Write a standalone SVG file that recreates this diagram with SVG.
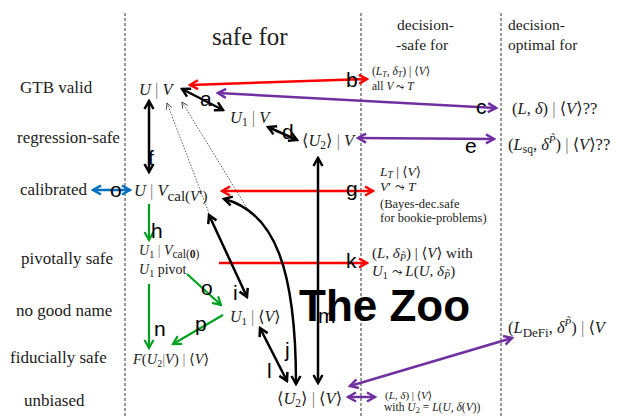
<svg xmlns="http://www.w3.org/2000/svg" width="620" height="416" viewBox="0 0 620 416">
<style>
.t{font-family:"Liberation Serif","DejaVu Serif",serif;fill:#222}
.i{font-style:italic}
.b{fill:#777}
.lbl{font-family:"Liberation Sans",Arial,sans-serif;font-size:21px;fill:#000}
.row{font-family:"Liberation Serif","DejaVu Serif",serif;font-size:17px;fill:#222}
.dash{stroke:#555;stroke-width:1.2;stroke-dasharray:3 2}
.k{stroke:#000;stroke-width:2.5;fill:none;marker-start:url(#mk);marker-end:url(#mk)}
.r{stroke:#f00;stroke-width:2.5;fill:none}
.pu{stroke:#7030a0;stroke-width:2.5;fill:none;marker-start:url(#mp);marker-end:url(#mp)}
.gr{stroke:#00a020;stroke-width:2.2;fill:none;marker-end:url(#mg)}
.th{stroke:#333;stroke-width:0.8;stroke-dasharray:1.5 1.5;fill:none;marker-start:url(#mt)}
</style>
<defs>
<marker id="mk" viewBox="0 0 12 12" refX="10" refY="6" markerWidth="12" markerHeight="12" markerUnits="userSpaceOnUse" orient="auto-start-reverse"><path d="M2,1.5 L10,6 L2,10.5" fill="none" stroke="#000" stroke-width="2.5"/></marker>
<marker id="mr" viewBox="0 0 12 12" refX="10" refY="6" markerWidth="12" markerHeight="12" markerUnits="userSpaceOnUse" orient="auto-start-reverse"><path d="M2,1.5 L10,6 L2,10.5" fill="none" stroke="#f00" stroke-width="2.5"/></marker>
<marker id="mp" viewBox="0 0 12 12" refX="10" refY="6" markerWidth="12" markerHeight="12" markerUnits="userSpaceOnUse" orient="auto-start-reverse"><path d="M2,1.5 L10,6 L2,10.5" fill="none" stroke="#7030a0" stroke-width="2.5"/></marker>
<marker id="mg" viewBox="0 0 12 12" refX="10" refY="6" markerWidth="12" markerHeight="12" markerUnits="userSpaceOnUse" orient="auto-start-reverse"><path d="M2,1.5 L10,6 L2,10.5" fill="none" stroke="#00a020" stroke-width="2.2"/></marker>
<marker id="mb" viewBox="0 0 12 12" refX="10" refY="6" markerWidth="12" markerHeight="12" markerUnits="userSpaceOnUse" orient="auto-start-reverse"><path d="M2,1.5 L10,6 L2,10.5" fill="none" stroke="#0070c0" stroke-width="2.5"/></marker>
<marker id="mt" viewBox="0 0 8 8" refX="7" refY="4" markerWidth="8" markerHeight="8" markerUnits="userSpaceOnUse" orient="auto-start-reverse"><path d="M1,1 L7,4 L1,7" fill="none" stroke="#333" stroke-width="0.8"/></marker>
</defs>
<rect width="620" height="416" fill="#fff"/>

<g id="columns">
<line class="dash" x1="125" y1="13" x2="125" y2="416"/>
<line class="dash" x1="361" y1="13" x2="361" y2="416"/>
<line class="dash" x1="501" y1="13" x2="501" y2="416"/>
<text class="t" x="212" y="45" font-size="25">safe for</text>
<text class="t" x="397" y="30" font-size="15.5">decision-</text>
<text class="t" x="396" y="50" font-size="15.5">-safe for</text>
<text class="t" x="508" y="30" font-size="15.5">decision-</text>
<text class="t" x="508" y="50" font-size="15.5">optimal for</text>
</g>

<g id="rows">
<text class="row" x="20" y="93">GTB valid</text>
<text class="row" x="17" y="143">regression-safe</text>
<text class="row" x="20" y="195">calibrated</text>
<text class="row" x="21" y="264">pivotally safe</text>
<text class="row" x="16" y="316">no good name</text>
<text class="row" x="10" y="363">fiducially safe</text>
<text class="row" x="24" y="406">unbiased</text>
</g>

<g id="connectors">
<path class="th" d="M167,103 L209,213"/>
<path class="th" d="M182,102 L250,213"/>
<path class="r" d="M190,85 L367,79" marker-start="url(#mr)" marker-end="url(#mr)"/>
<path class="pu" d="M218,93 L496,108"/>
<path class="k" d="M182,89 L223,110"/>
<path class="k" d="M268,127 L297,140"/>
<path class="pu" d="M358,138 L494,139"/>
<path class="k" d="M149,101 L149,172"/>
<path d="M93,190 L130,190" stroke="#0070c0" stroke-width="2.5" fill="none" marker-start="url(#mb)" marker-end="url(#mb)"/>
<path class="r" d="M222,191 L373,191" marker-start="url(#mr)" marker-end="url(#mr)"/>
<path class="gr" d="M149,204 L149,240"/>
<path class="r" d="M219,263 L367,263" marker-end="url(#mr)"/>
<path class="k" d="M209,215 L247,297"/>
<path class="k" d="M224,199 C275,212 296,270 296,384"/>
<path class="k" d="M318,158 L318,383"/>
<path class="k" d="M260,328 L287,381"/>
<path class="gr" d="M149,284 L149,348"/>
<path class="gr" d="M187,274 L221,305"/>
<path class="gr" d="M223,315 L173,344"/>
<path class="pu" d="M350,386 L512,338"/>
<path class="pu" d="M348,397 L375,397"/>
</g>

<g id="labels">
<text class="lbl" x="200" y="106">a</text>
<text class="lbl" x="346" y="87">b</text>
<text class="lbl" x="476" y="114">c</text>
<text class="lbl" x="282" y="139">d</text>
<text class="lbl" x="465" y="153">e</text>
<text class="lbl" x="148" y="165">f</text>
<text class="lbl" x="346" y="196">g</text>
<text class="lbl" x="110" y="197">o</text>
<text class="lbl" x="151" y="238">h</text>
<text class="lbl" x="233" y="300">i</text>
<text class="lbl" x="285" y="357">j</text>
<text class="lbl" x="346" y="268">k</text>
<text class="lbl" x="267" y="378">l</text>
<text class="lbl" x="318" y="323">m</text>
<text class="lbl" x="154" y="336">n</text>
<text class="lbl" x="201" y="295">o</text>
<text class="lbl" x="195" y="331">p</text>
</g>

<g id="n-uv"><text class="t" x="139" y="95" font-size="16.5"><tspan class="i">U</tspan> <tspan class="b">|</tspan> <tspan class="i">V</tspan></text></g>
<g id="n-u1v"><text class="t" x="230" y="123" font-size="16.5"><tspan class="i">U</tspan><tspan font-size="11.5" dy="3">1</tspan><tspan dy="-3"> </tspan><tspan class="b">|</tspan> <tspan class="i">V</tspan></text></g>
<g id="n-u2v"><text class="t" x="302" y="146" font-size="16.5">⟨<tspan class="i">U</tspan><tspan font-size="11.5" dy="3">2</tspan><tspan dy="-3">⟩ </tspan><tspan class="b">|</tspan> <tspan class="i">V</tspan></text></g>
<g id="n-ucal"><text class="t" x="134" y="196" font-size="16.5"><tspan class="i">U</tspan> <tspan class="b">|</tspan> <tspan class="i">V</tspan><tspan font-size="15" dy="5">cal(<tspan class="i">V</tspan>′)</tspan></text></g>
<g id="n-u1cal"><text class="t" x="139" y="255" font-size="14"><tspan class="i">U</tspan><tspan font-size="10" dy="3">1</tspan><tspan dy="-3"> </tspan><tspan class="b">|</tspan> <tspan class="i">V</tspan><tspan font-size="11.5" dy="3">cal(<tspan font-weight="bold">0</tspan>)</tspan></text>
<text class="t" x="139" y="274" font-size="14"><tspan class="i">U</tspan><tspan font-size="10" dy="3">1</tspan><tspan dy="-3"> pivot</tspan></text></g>
<g id="n-u1av"><text class="t" x="230" y="322" font-size="16"><tspan class="i">U</tspan><tspan font-size="11" dy="3">1</tspan><tspan dy="-3"> </tspan><tspan class="b">|</tspan> ⟨<tspan class="i">V</tspan>⟩</text></g>
<g id="n-fid"><text class="t" x="133" y="364" font-size="14.5"><tspan class="i">F</tspan>(<tspan class="i">U</tspan><tspan font-size="10" dy="3">2</tspan><tspan dy="-3" class="b">|</tspan><tspan class="i">V</tspan>) <tspan class="b">|</tspan> ⟨<tspan class="i">V</tspan>⟩</text></g>
<g id="n-u2av"><text class="t" x="277" y="404" font-size="16.5">⟨<tspan class="i">U</tspan><tspan font-size="11.5" dy="3">2</tspan><tspan dy="-3">⟩ </tspan><tspan class="b">|</tspan> ⟨<tspan class="i">V</tspan>⟩</text></g>

<g id="n-lt"><text class="t" x="372" y="75" font-size="11.5">(<tspan class="i">L</tspan><tspan font-size="8" dy="2" class="i">T</tspan><tspan dy="-2">, </tspan><tspan class="i">δ</tspan><tspan font-size="8" dy="2" class="i">T</tspan><tspan dy="-2">) | ⟨</tspan><tspan class="i">V</tspan>⟩</text>
<text class="t" x="372" y="90" font-size="11.5">all  <tspan class="i">V</tspan> <tspan font-family="DejaVu Sans,sans-serif" font-size="10">⤳</tspan> <tspan class="i">T</tspan></text></g>
<g id="n-ld"><text class="t" x="512" y="114" font-size="16.5">(<tspan class="i">L</tspan>, <tspan class="i">δ</tspan>) <tspan class="b">|</tspan> ⟨<tspan class="i">V</tspan>⟩??</text></g>
<g id="n-lsq"><text class="t" x="508" y="150" font-size="16.5">(<tspan class="i">L</tspan><tspan font-size="11.5" dy="3">sq</tspan><tspan dy="-3">, </tspan><tspan class="i">δ</tspan><tspan font-size="11" dy="-7" class="i">P̃</tspan><tspan dy="7">) </tspan><tspan class="b">|</tspan> ⟨<tspan class="i">V</tspan>⟩??</text></g>
<g id="n-ltcal"><text class="t" x="380" y="176" font-size="13.5"><tspan class="i">L</tspan><tspan font-size="9.5" dy="2" class="i">T</tspan><tspan dy="-2"> | ⟨</tspan><tspan class="i">V</tspan>⟩</text>
<text class="t" x="380" y="191" font-size="13.5"><tspan class="i">V</tspan>′ <tspan font-family="DejaVu Sans,sans-serif" font-size="11.5">⤳</tspan> <tspan class="i">T</tspan></text>
<text class="t" x="380" y="208" font-size="12.5">(Bayes-dec.safe</text>
<text class="t" x="380" y="222" font-size="12.5">for bookie-problems)</text></g>
<g id="n-ldp"><text class="t" x="372" y="258" font-size="15">(<tspan class="i">L</tspan>, <tspan class="i">δ</tspan><tspan font-size="10" dy="3" class="i">P̃</tspan><tspan dy="-3">) | ⟨</tspan><tspan class="i">V</tspan>⟩ with</text>
<text class="t" x="372" y="276" font-size="15"><tspan class="i">U</tspan><tspan font-size="10" dy="3">1</tspan><tspan dy="-3"> </tspan><tspan font-family="DejaVu Sans,sans-serif" font-size="12.5">⤳</tspan> <tspan class="i">L</tspan>(<tspan class="i">U</tspan>, <tspan class="i">δ</tspan><tspan font-size="10" dy="3" class="i">P̃</tspan><tspan dy="-3">)</tspan></text></g>
<g id="n-defi"><text class="t" x="508" y="333" font-size="16.5">(<tspan class="i">L</tspan><tspan font-size="13" dy="4">DeFi</tspan><tspan dy="-4">, </tspan><tspan class="i">δ</tspan><tspan font-size="11" dy="-7" class="i">P̃</tspan><tspan dy="7">) </tspan><tspan class="b">|</tspan> ⟨<tspan class="i">V</tspan></text></g>
<g id="n-unb"><text class="t" x="385" y="399" font-size="11">(<tspan class="i">L</tspan>, <tspan class="i">δ</tspan>) | ⟨<tspan class="i">V</tspan>⟩</text>
<text class="t" x="384" y="411" font-size="11.5">with  <tspan class="i">U</tspan><tspan font-size="8.5" dy="2">2</tspan><tspan dy="-2"> = </tspan><tspan class="i">L</tspan>(<tspan class="i">U</tspan>, <tspan class="i">δ</tspan>(<tspan class="i">V</tspan>))</text></g>

<text x="299" y="321" font-family="Liberation Sans,Arial,sans-serif" font-weight="bold" font-size="44" fill="#000">The Zoo</text>
</svg>
